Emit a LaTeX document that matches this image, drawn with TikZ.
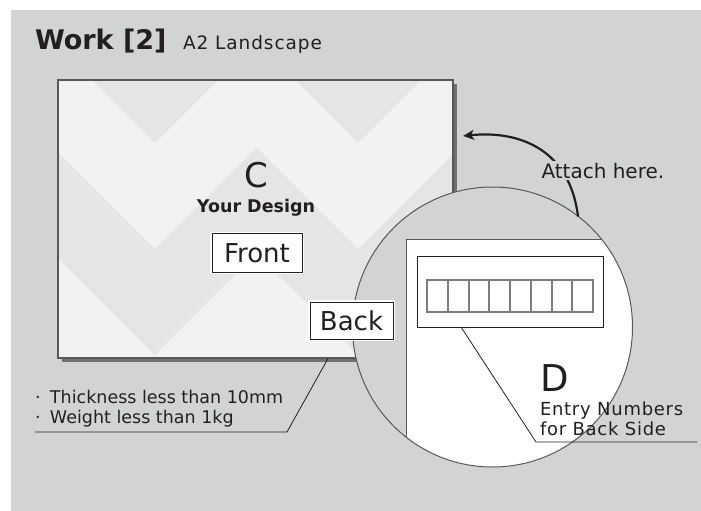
\documentclass[tikz,border=0pt]{standalone}
\usepackage{fontspec}
\setmainfont{DejaVu Sans}
\usetikzlibrary{arrows.meta}
\definecolor{bggray}{RGB}{210,211,213}
\definecolor{boardlight}{RGB}{241,242,242}
\definecolor{boarddark}{RGB}{228,229,229}
\definecolor{edgegray}{RGB}{88,88,88}
\definecolor{shadowgray}{RGB}{112,112,112}
\definecolor{ink}{RGB}{35,31,32}
\definecolor{cellgray}{RGB}{125,125,125}
\newcommand\fsz[1]{\fontsize{#1}{#1}\selectfont}
\begin{document}
\begin{tikzpicture}[x=1pt,y=-1pt,
  txt/.style={inner sep=0pt, outer sep=0pt, text=ink},
  tagbox/.style={draw=ink, line width=0.9pt, fill=white, inner sep=0pt,
    preaction={draw=white, line width=3.5pt}, text=ink,
    font=\fsz{26}, text height=19pt, text depth=0pt},
  leader/.style={draw=ink, line width=0.8pt}]
\useasboundingbox (0,0) rectangle (701,511);
\fill[bggray] (11,10) rectangle (701,511);

% heading
\node[txt, anchor=base west, font=\bfseries\fsz{27}] (title) at (35,50) {Work [2]};
\node[txt, anchor=base west, font=\fsz{18.5}\addfontfeatures{LetterSpace=5}] (format) at (183,50) {A2 Landscape};

% board with drop shadow and chevron print
\fill[shadowgray] (61.5,83.5) rectangle (456.5,361.5);
\fill[boardlight] (58,80) rectangle (453,358);
\begin{scope}
  \clip (58,80) rectangle (453,358);
  \fill[boarddark] (-48,0) -- (-48,143) -- (53.5,41.5) -- (155,143) -- (256.5,41.5)
    -- (358,143) -- (459.5,41.5) -- (561,143) -- (561,0) -- cycle;
  \fill[boarddark] (-48,249) -- (53.5,147.5) -- (155,249) -- (256.5,147.5) -- (358,249)
    -- (459.5,147.5) -- (561,249) -- (561,355) -- (459.5,253.5) -- (358,355)
    -- (256.5,253.5) -- (155,355) -- (53.5,253.5) -- (-48,355) -- cycle;
\end{scope}
\draw[edgegray, line width=1.5pt] (58,80) rectangle (453,358);

% design label
\node[txt, anchor=base, font=\fsz{34}] (letterC) at (256,187) {C};
\node[txt, anchor=base, font=\bfseries\fsz{17.5}] (design) at (256,212) {Your Design};
\node[tagbox, minimum width=90pt, minimum height=39pt] (front) at (257,253) {Front};

% magnified back side
\node[circle, fill=bggray, minimum size=280pt, inner sep=0pt] (lens) at (492.5,327) {};
\begin{scope}
  \clip (492.5,327) circle (140);
  \fill[white] (406,239) rectangle (700,500);
  \draw[edgegray, line width=1pt] (406,500) -- (406,239) -- (700,239);
\end{scope}
\draw[edgegray, line width=1pt] (lens.center) circle (140);
\node[draw=ink, line width=0.9pt, fill=white, minimum width=186pt, minimum height=71pt, inner sep=0pt] (plate) at (510,291.5) {};
\foreach \i in {0,...,7}
  \draw[cellgray, line width=2pt] (427+\i*20.75,280) rectangle ++(20.75,32);

\node[tagbox, minimum width=83pt, minimum height=37pt] (back) at (351.5,320.5) {Back};

% entry number callout
\node[txt, anchor=base west, font=\fsz{37}] (letterD) at (540,391) {D};
\node[txt, anchor=base west, font=\fsz{18}\addfontfeatures{LetterSpace=4}] (entry1) at (540,415) {Entry Numbers};
\node[txt, anchor=base west, font=\fsz{18}\addfontfeatures{LetterSpace=4}] (entry2) at (540,435) {for Back Side};
\coordinate (lead0) at (461,327);
\coordinate (lead1) at (536,442);
\coordinate (lead2) at (697,442);
\draw[leader] (lead0) -- (lead1) -- (lead2);

% attach arrow
\coordinate (attachfrom) at (578,216.5);
\coordinate (attachto) at (463,136);
\draw[ink, line width=2.2pt, -{Stealth[length=11pt,width=10pt,inset=3pt]}]
  (attachfrom) .. controls (570,150) and (520,130) .. (attachto);
\node[txt, anchor=base west, font=\fsz{20}, fill=bggray, inner sep=1.5pt, text depth=0pt] (attach) at (540,178) {Attach here.};

% size limits
\node[txt, anchor=base west, font=\fsz{17.5}] (thick) at (35,403) {\makebox[15pt][l]{·}Thickness less than 10mm};
\node[txt, anchor=base west, font=\fsz{17.5}] (weight) at (35,423) {\makebox[15pt][l]{·}Weight less than 1kg};
\coordinate (wt0) at (35,432);
\coordinate (wt1) at (287,432);
\coordinate (wt2) at (328,358.5);
\draw[leader] (wt0) -- (wt1) -- (wt2);
\end{tikzpicture}
\end{document}
